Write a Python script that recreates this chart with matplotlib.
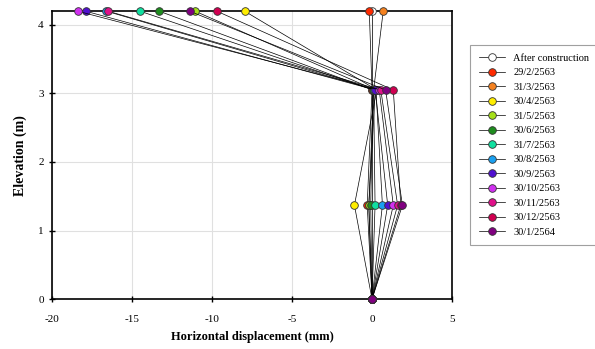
import matplotlib
matplotlib.use('Agg')
import matplotlib.pyplot as plt

plt.rcParams.update({
    'font.family': 'Liberation Serif',
    'font.size': 8,
    'axes.unicode_minus': False,
})

# elevation of the four measuring points (m)
elevation = [0.0, 1.37, 3.05, 4.2]

series = ['After construction', '29/2/2563', '31/3/2563', '30/4/2563', '31/5/2563',
          '30/6/2563', '31/7/2563', '30/8/2563', '30/9/2563', '30/10/2563',
          '30/11/2563', '30/12/2563', '30/1/2564']

# horizontal displacement (mm) at each elevation, bottom -> top
disp = [
    [0, 0.00, 0.00, 0.00],
    [0, -0.30, 0.00, -0.17],
    [0, -0.20, 0.10, 0.70],
    [0, -1.10, 0.30, -7.96],
    [0, -0.20, 0.20, -11.06],
    [0, -0.08, 0.05, -13.30],
    [0, 0.19, 0.10, -14.50],
    [0, 0.65, 0.25, -16.60],
    [0, 0.98, 0.20, -17.90],
    [0, 1.33, 0.45, -18.40],
    [0, 1.60, 0.55, -16.50],
    [0, 1.80, 1.33, -9.70],
    [0, 1.90, 0.85, -11.40],
]

colors = ['white', '#FF2A00', '#F58220', '#FFEE00', '#A6E01A', '#1E8C1E', '#10E0A0',
          '#1AA0F0', '#5010D0', '#D030F0', '#E0108A', '#D00050', '#800080']

fig = plt.figure(figsize=(5.95, 3.49), dpi=100)
ax = fig.add_axes([0.0874, 0.143, 0.6723, 0.825])

for name, d, c in zip(series, disp, colors):
    ax.plot(d, elevation, '-', color='black', lw=0.5, marker='o', markersize=5.5,
            markerfacecolor=c, markeredgecolor='#333333', markeredgewidth=0.6,
            label=name, clip_on=False, zorder=3)

ax.set_xlim(-20, 5)
ax.set_ylim(0, 4.2)
ax.set_xticks([-20, -15, -10, -5, 0, 5])
ax.set_yticks([0, 1, 2, 3, 4])
ax.grid(True, color='#E0E0E0', lw=0.8)
ax.set_axisbelow(True)
for s in ax.spines.values():
    s.set_linewidth(1.2)
ax.tick_params(direction='inout', length=5, width=1, labelsize=8)
ax.tick_params(axis='x', pad=9)

ax.set_xlabel('Horizontal displacement (mm)', fontsize=9, fontweight='bold', labelpad=5)
ax.set_ylabel('Elevation (m)', fontsize=10, fontweight='bold', labelpad=8)

leg = fig.legend(loc='upper left', bbox_to_anchor=(0.782, 0.885), fontsize=7.5,
                 frameon=True, fancybox=False, edgecolor='#888888',
                 handlelength=2.5, labelspacing=0.5, borderpad=0.8)
leg.get_frame().set_linewidth(0.8)

fig.savefig('out.png', dpi=100)
